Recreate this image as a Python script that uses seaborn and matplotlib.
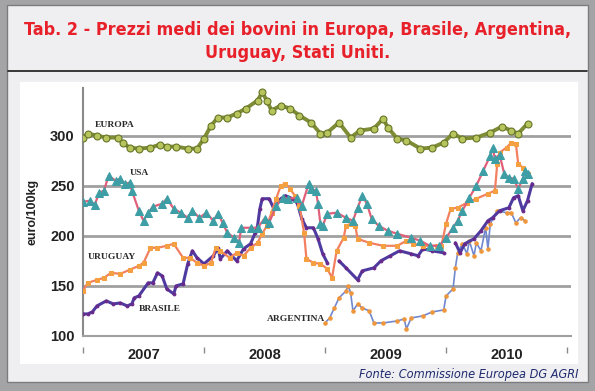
import matplotlib
matplotlib.use("Agg")
import matplotlib.pyplot as plt
from matplotlib import font_manager
from matplotlib.patches import Rectangle
import seaborn as sns

# weekly prices, euro/100kg (x = weeks since Jan 2007)
europa_weeks = [0, 2, 6, 10, 15, 17, 20, 24, 29, 33, 36, 40, 45, 49, 52, 55, 58, 62, 66, 70,
                75, 77, 79, 81, 85, 89, 93, 98, 102, 105, 110, 115, 119, 125, 129, 131, 135,
                139, 145, 150, 155, 159, 163, 169, 175, 180, 184, 187, 191]
europa_vals = [298, 302, 300, 298, 298, 293, 288, 287, 288, 291, 289, 289, 287, 287, 297, 310,
               318, 318, 322, 327, 335, 343, 335, 325, 330, 327, 320, 313, 302, 303, 313, 298,
               305, 307, 317, 308, 297, 295, 287, 288, 293, 302, 297, 298, 303, 309, 305, 302, 312]

usa_weeks = [0, 3, 5, 7, 9, 11, 14, 16, 18, 20, 21, 24, 26, 28, 30, 34, 36, 39, 42, 45, 47, 50,
             53, 56, 58, 60, 62, 65, 67, 68, 72, 75, 78, 80, 83, 86, 88, 92, 94, 97, 98, 100,
             101, 102, 103, 105, 109, 113, 116, 118, 120, 122, 124, 127, 131, 135, 141, 145,
             149, 153, 156, 159, 161, 163, 166, 169, 172, 175, 176, 177, 179, 181, 183, 185,
             187, 189, 190, 191]
usa_vals = [234, 235, 231, 243, 245, 260, 255, 257, 252, 253, 245, 225, 215, 223, 229, 232, 237,
            227, 223, 218, 225, 218, 223, 215, 222, 213, 203, 198, 193, 208, 208, 208, 217, 213,
            230, 238, 237, 238, 230, 252, 247, 245, 232, 212, 210, 222, 223, 218, 215, 228, 240,
            232, 217, 210, 205, 202, 198, 195, 190, 190, 198, 208, 215, 225, 238, 250, 265, 280,
            288, 277, 281, 262, 258, 257, 247, 257, 265, 262]

uruguay_weeks = [0, 2, 6, 9, 12, 16, 20, 24, 26, 29, 32, 36, 39, 43, 46, 49, 52, 55, 57, 59, 63,
                 66, 69, 72, 75, 77, 79, 81, 83, 85, 87, 89, 91, 93, 95, 96, 99, 102, 105, 107,
                 109, 112, 113, 115, 117, 118, 123, 129, 135, 139, 142, 146, 152, 154, 156, 158,
                 161, 165, 169, 174, 177, 178, 179, 182, 184, 186, 187, 189, 191]
uruguay_vals = [145, 153, 156, 158, 163, 162, 166, 170, 173, 188, 188, 190, 192, 178, 178, 173,
                170, 173, 188, 185, 178, 183, 180, 188, 193, 202, 210, 223, 237, 250, 252, 247,
                240, 230, 203, 177, 173, 172, 167, 158, 185, 198, 210, 212, 210, 197, 193, 190,
                190, 195, 192, 190, 190, 190, 212, 227, 228, 233, 237, 242, 245, 272, 283, 288,
                293, 292, 272, 268, 262]

brasile_weeks_1 = [0, 2, 4, 6, 10, 13, 16, 19, 21, 22, 24, 28, 30, 32, 34, 36, 39, 40, 43, 45,
                   47, 49, 52, 56, 58, 59, 62, 66, 69, 72, 74, 75, 76, 77, 80, 82, 85, 87, 90,
                   92, 94, 96, 99, 101, 103, 105]
brasile_vals_1 = [122, 122, 124, 130, 135, 132, 133, 130, 132, 138, 140, 153, 153, 163, 160, 147,
                  142, 150, 152, 172, 185, 178, 172, 180, 188, 177, 185, 175, 187, 192, 203, 210,
                  227, 237, 237, 227, 237, 240, 237, 233, 217, 208, 208, 197, 182, 173]
brasile_weeks_2 = [110, 113, 118, 120, 125, 128, 132, 136, 141, 144, 146, 150, 155]
brasile_vals_2 = [175, 168, 156, 165, 168, 175, 180, 185, 182, 180, 187, 185, 183]
brasile_weeks_3 = [160, 162, 164, 168, 171, 174, 176, 179, 183, 185, 187, 189, 191, 193]
brasile_vals_3 = [193, 183, 192, 197, 205, 215, 218, 225, 228, 238, 240, 225, 235, 252]

argentina_weeks = [104, 106, 108, 110, 113, 114, 115, 116, 118, 120, 123, 125, 129, 135, 138,
                   139, 141, 146, 150, 155, 156, 159, 160, 161, 163, 165, 166, 168, 169, 171,
                   173, 174, 175, 178, 182, 184, 186, 188, 190]
argentina_vals = [113, 118, 128, 138, 145, 150, 143, 125, 132, 128, 125, 113, 113, 115, 117, 107,
                  118, 120, 124, 126, 140, 147, 168, 183, 192, 182, 195, 180, 193, 185, 208, 187,
                  212, 225, 223, 223, 213, 218, 215]

years = ["2007", "2008", "2009", "2010"]
year_starts = [0, 52, 104, 156, 208]

sns.set_style("white")
plt.rcParams["font.family"] = ["Liberation Sans", "DejaVu Sans"]


# the title uses a condensed sans face; take one if the system has it
def narrow_font(weight, style="normal"):
    for f in font_manager.fontManager.ttflist:
        tag = f.name + " " + f.fname
        narrow = "Narrow" in tag or "Condensed" in tag
        sans = "Sans" in f.name and "Mono" not in f.name
        bold = f.weight in (700, "bold")
        if narrow and sans and f.style == style and bold == (weight == "bold"):
            return font_manager.FontProperties(fname=f.fname)
    return None


title_fp = narrow_font("bold")
source_fp = narrow_font("normal", "oblique") or narrow_font("normal", "italic")

fig = plt.figure(figsize=(5.95, 3.91), dpi=100)
fig.patch.set_facecolor("#a4a4a6")
fig.patches.append(Rectangle((0.012, 0.022), 0.976, 0.966, transform=fig.transFigure,
                             facecolor="#efeff1", edgecolor="#7c7c7e", lw=1, zorder=-2))
fig.patches.append(Rectangle((0.034, 0.069), 0.938, 0.721, transform=fig.transFigure,
                             facecolor="white", edgecolor="none", zorder=-1))
fig.add_artist(plt.Line2D([0.014, 0.986], [0.818, 0.818], transform=fig.transFigure,
                          color="#1a1a1a", lw=1.2))

title = "Tab. 2 - Prezzi medi dei bovini in Europa, Brasile, Argentina,\nUruguay, Stati Uniti."
if title_fp is not None:
    title_fp.set_size(12.9)
    fig.text(0.5, 0.894, title, ha="center", va="center", color="#e8202a",
             fontproperties=title_fp, linespacing=1.4)
else:
    fig.text(0.5, 0.894, title, ha="center", va="center", color="#e8202a", fontsize=13,
             fontweight="bold", linespacing=1.3)

source = "Fonte: Commissione Europea DG AGRI"
if source_fp is not None:
    source_fp.set_size(9.1)
    fig.text(0.972, 0.041, source, ha="right", va="center", color="#1e2a6e",
             fontproperties=source_fp)
else:
    fig.text(0.972, 0.041, source, ha="right", va="center", color="#1e2a6e",
             fontsize=9, style="italic")

ax = fig.add_axes([0.1395, 0.1407, 0.8202, 0.6343])
ax.set_facecolor("white")

sns.lineplot(x=europa_weeks, y=europa_vals, ax=ax, color="#7d8c35", lw=2.8, marker="o",
             markersize=5, markerfacecolor="#b8c55c", markeredgecolor="#66752a",
             markeredgewidth=0.8, zorder=3)
sns.lineplot(x=argentina_weeks, y=argentina_vals, ax=ax, color="#7088d0", lw=1.2, marker="o",
             markersize=2.5, markerfacecolor="#f0963a", markeredgecolor="#f0963a", zorder=3)
for bw, bv in [(brasile_weeks_1, brasile_vals_1), (brasile_weeks_2, brasile_vals_2),
               (brasile_weeks_3, brasile_vals_3)]:
    sns.lineplot(x=bw, y=bv, ax=ax, color="#4f3aa0", lw=2.2, marker="o", markersize=2,
                 markerfacecolor="#6a2a8a", markeredgecolor="#6a2a8a", zorder=4)
sns.lineplot(x=uruguay_weeks, y=uruguay_vals, ax=ax, color="#f28060", lw=1.6, marker="s",
             markersize=3, markerfacecolor="#f5a040", markeredgecolor="#f5a040", zorder=4)
sns.lineplot(x=usa_weeks, y=usa_vals, ax=ax, color="#e0607a", lw=1.6, marker="^",
             markersize=5.5, markerfacecolor="#3d9ea5", markeredgecolor="#3d9ea5", zorder=5)

lab = dict(fontsize=6.8, fontweight="bold", family=["Liberation Serif", "DejaVu Serif"],
           color="#2a2a2a", va="center", ha="left", zorder=6)
ax.text(5, 311, "EUROPA", **lab)
ax.text(20, 263, "USA", **lab)
ax.text(2, 179, "URUGUAY", **lab)
ax.text(24, 127, "BRASILE", **lab)
ax.text(79, 117, "ARGENTINA", **lab)

ax.set_xlim(0, 209.7)
ax.set_ylim(100, 347.5)
ax.set_yticks([100, 150, 200, 250, 300])
ax.yaxis.grid(True, color="#a0a0a0", lw=2)
ax.xaxis.grid(False)
ax.set_xticks([w + 26 for w in year_starts[:-1]])
ax.set_xticklabels(years)
ax.set_xticks(range(0, 210), minor=True)
ax.tick_params(axis="x", which="major", length=0, pad=9, labelsize=10.5)
ax.tick_params(axis="x", which="minor", length=3, width=0.6, color="#9a9a9a", direction="inout")
ax.tick_params(axis="y", length=0, pad=6, labelsize=10.5)
for t in ax.get_xticklabels() + ax.get_yticklabels():
    t.set_fontweight("bold")
    t.set_color("#222222")
ax.set_ylabel("euro/100kg", fontsize=9, fontweight="bold", color="#222222", labelpad=8)
ax.set_xlabel("")

ax.vlines(year_starts, -0.069, -0.044, transform=ax.get_xaxis_transform(),
          color="#8a8a8a", lw=1, clip_on=False)

for s in ["top", "right"]:
    ax.spines[s].set_visible(False)
ax.spines["left"].set_color("#8a8a8a")
ax.spines["left"].set_linewidth(1.5)
ax.spines["bottom"].set_color("#a0a0a0")
ax.spines["bottom"].set_linewidth(1.5)

fig.savefig("out.png", dpi=100, facecolor=fig.get_facecolor())
